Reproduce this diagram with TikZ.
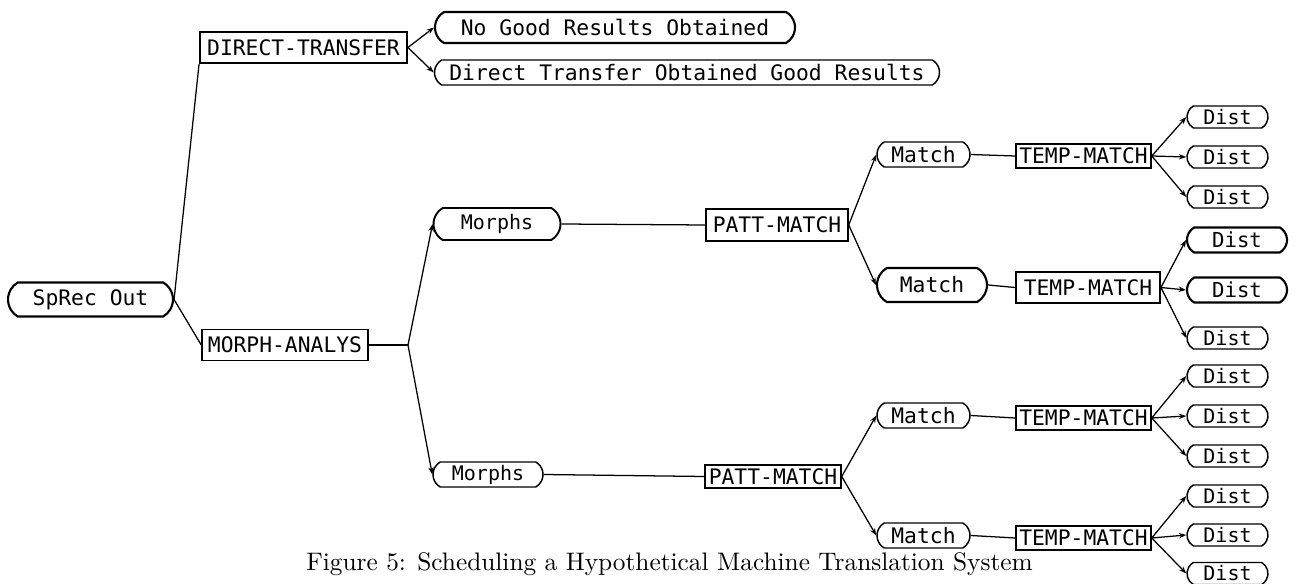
\documentclass[tikz,border=0pt]{standalone}
\usepackage{fontspec}
\newfontfamily\plotfont{DejaVu Sans Mono}
\newfontfamily\capfont{lmroman10-regular.otf}
\usetikzlibrary{shapes.misc,arrows.meta}
\tikzset{
  pill/.style={rounded rectangle, rounded rectangle arc length=120, draw, line width=1.1pt, inner sep=0pt,
    font=\plotfont\fontsize{16}{18}\selectfont},
  thickpill/.style={pill, line width=1.6pt},
  procbox/.style={rectangle, draw, line width=1.1pt, inner sep=0pt,
    font=\plotfont\fontsize{16}{18}\selectfont},
  distpill/.style={pill, minimum width=60.75pt, minimum height=16.5pt, font=\plotfont\fontsize{15}{17}\selectfont},
  bigdist/.style={thickpill, minimum width=75pt, minimum height=18.75pt, font=\plotfont\fontsize{15.5}{17}\selectfont},
  matchpill/.style={pill, minimum width=69.75pt, minimum height=18.75pt},
  tmbox/.style={procbox, minimum width=101.25pt, minimum height=18pt},
  link/.style={line width=0.95pt},
  arr/.style={line width=0.95pt, -{Stealth[length=5.5pt,width=4pt]}}
}
\begin{document}
\begin{tikzpicture}[x=0.75pt,y=-0.75pt]
\path[use as bounding box] (0,0) rectangle (1296,584);

% level 0-1
\node[thickpill, minimum width=123.75pt, minimum height=25.5pt] (sprec) at (90.5,299.5) {SpRec Out};
\node[procbox, line width=1.4pt, minimum width=155.25pt, minimum height=23.25pt] (dt) at (303.5,47.5) {DIRECT-TRANSFER};
\node[procbox, minimum width=124.5pt, minimum height=23.25pt] (ma) at (285,345) {MORPH-ANALYS};

% direct transfer results
\node[thickpill, minimum width=270pt, minimum height=23.25pt] (nogood) at (615,27.5) {No Good Results Obtained};
\node[pill, minimum width=378.75pt, minimum height=18.75pt] (dtgood) at (687,72.5) {Direct Transfer Obtained Good Results};

% morphs
\node[thickpill, line width=1.4pt, minimum width=95.25pt, minimum height=24pt, font=\plotfont\fontsize{15}{17}\selectfont] (m1) at (497,224) {Morphs};
\node[pill, minimum width=82.5pt, minimum height=18.75pt, font=\plotfont\fontsize{15}{17}\selectfont] (m2) at (488,474.5) {Morphs};
\coordinate (b1) at (408,345);

% patt-match
\node[procbox, minimum width=106.5pt, minimum height=24pt] (p1) at (777,225) {PATT-MATCH};
\node[procbox, minimum width=102pt, minimum height=17.25pt] (p2) at (773,476.5) {PATT-MATCH};

% match
\node[matchpill] (mt1) at (923.5,154.5) {Match};
\node[thickpill, minimum width=82.5pt, minimum height=25.5pt] (mt2) at (932,285) {Match};
\node[matchpill] (mt3) at (923.5,415.5) {Match};
\node[matchpill] (mt4) at (923.5,535.5) {Match};

% temp-match
\node[tmbox] (t1) at (1083.5,156) {TEMP-MATCH};
\node[tmbox, line width=1.4pt, minimum width=108pt, minimum height=23.25pt] (t2) at (1088,287.5) {TEMP-MATCH};
\node[tmbox] (t3) at (1083.5,418) {TEMP-MATCH};
\node[tmbox] (t4) at (1083.5,538) {TEMP-MATCH};

% dists
\node[distpill] (d1) at (1227.5,117) {Dist};
\node[distpill] (d2) at (1227.5,157) {Dist};
\node[distpill] (d3) at (1227.5,197) {Dist};
\node[bigdist] (d4) at (1237,240) {Dist};
\node[bigdist] (d5) at (1237,290) {Dist};
\node[distpill] (d6) at (1227.5,338) {Dist};
\node[distpill] (d7) at (1227.5,376) {Dist};
\node[distpill] (d8) at (1227.5,416) {Dist};
\node[distpill] (d9) at (1227.5,456) {Dist};
\node[distpill] (d10) at (1227.5,496) {Dist};
\node[distpill] (d11) at (1227.5,535) {Dist};
\node[distpill] (d12) at (1227.5,573.5) {Dist};

% caption
\node[anchor=base east, inner sep=0pt, font=\capfont\fontsize{19}{23}\selectfont] (cap) at (1033,570) {Figure 5: Scheduling a Hypothetical Machine Translation System};

% connectors
\draw[link] (sprec.east) -- (dt.south west);
\draw[link] (sprec.east) -- (ma.west);
\draw[arr] (dt.east) -- (nogood.west);
\draw[arr] (dt.east) -- (dtgood.west);
\draw[link] (ma.east) -- (b1);
\draw[arr] (b1) -- (m1.west);
\draw[arr] (b1) -- (m2.west);
\draw[link] (m1.east) -- (p1.west);
\draw[link] (m2.east) -- (p2.west);
\draw[arr] (p1.east) -- (mt1.west);
\draw[arr] (p1.east) -- (mt2.west);
\draw[arr] (p2.east) -- (mt3.west);
\draw[arr] (p2.east) -- (mt4.west);
\draw[link] (mt1.east) -- (t1.west);
\draw[link] (mt2.east) -- (t2.west);
\draw[link] (mt3.east) -- (t3.west);
\draw[link] (mt4.east) -- (t4.west);
\foreach \t/\a/\b/\c in {t1/d1/d2/d3, t2/d4/d5/d6, t3/d7/d8/d9, t4/d10/d11/d12}{
  \draw[arr] (\t.east) -- (\a.west);
  \draw[arr] (\t.east) -- (\b.west);
  \draw[arr] (\t.east) -- (\c.west);
}
\end{tikzpicture}
\end{document}
